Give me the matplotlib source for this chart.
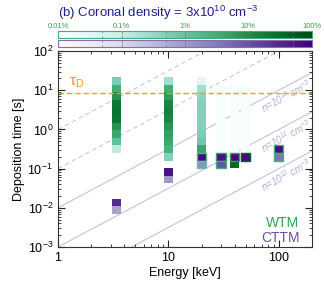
import numpy as np
import matplotlib.pyplot as plt
from matplotlib.colors import LogNorm
from matplotlib.cm import ScalarMappable
from matplotlib.ticker import FuncFormatter, LogLocator, NullFormatter

plt.rcParams['font.family'] = ['Liberation Sans', 'DejaVu Sans']
plt.rcParams['mathtext.fontset'] = 'custom'
plt.rcParams['mathtext.rm'] = 'Liberation Sans'
plt.rcParams['mathtext.it'] = 'Liberation Sans:italic'
plt.rcParams['mathtext.default'] = 'regular'

# Data
energy = [3.4, 10, 20, 30, 40, 50, 100]          # keV
# time bins: log10 of the upper edge of bin 0 and bin width (dex)
t_top_log = 1.34
t_step = 0.194
# WTM (green) distribution: first bin index and percent per bin
wtm_first = [0, 0, 0, 1, 1, 1, 9]
wtm_pct = [
    [0.6, 3, 8, 20, 25, 20, 8, 4, 1.2, 0.12],
    [0.25, 3, 6, 12, 15, 12, 7, 5, 4, 2.5, 0.5],
    [0.03, 0.25, 0.4, 0.5, 0.5, 0.5, 0.5, 0.6, 0.8, 4, 2, 1],
    [0.01, 0.01, 0.01, 0.01, 0.01, 0.01, 0.01, 0.01, 0.01, 5, 3],
    [0.01, 0.01, 0.01, 0.01, 0.01, 0.01, 0.01, 0.01, 0.01, 5, 35],
    [0.01, 0.01, 0.01, 0.01, 0.01, 0.01, 0.01, 0.01, 0.01, 40],
    [3, 3],
]
# CTTM (purple) distribution
cttm_first = [16, 12, 10, 10, 10, 10, 9]
cttm_pct = [[30, 0.7], [60, 1], [70, 1.5], [60, 10], [80], [70], [70, 4]]

tau_d = 8.7                      # s
solid_density = [1e10, 1e11, 1e12]
dashed_density = [1e8, 1e9]
t_coef = 1e8                     # t = t_coef * E^1.5 / n

fig = plt.figure(figsize=(3.24, 2.92), dpi=100)
ax = fig.add_axes([0.179, 0.154, 0.784, 0.671])

norm = LogNorm(1e-2, 1e2)
gcmap = plt.get_cmap('BuGn')
pcmap = plt.get_cmap('Purples')

# density lines
E_line = np.logspace(0, np.log10(200), 50)
for n in solid_density:
    ax.plot(E_line, t_coef * E_line**1.5 / n, color='#c4c0e4', lw=0.8, zorder=1)
for n in dashed_density:
    ax.plot(E_line, t_coef * E_line**1.5 / n, color='#c8c8d6', lw=0.8,
            dashes=(4, 3), zorder=1)
for n, ex in zip(solid_density, [10, 11, 12]):
    ax.text(118, 0.55 * t_coef * 118**1.5 / n, rf'n=10$^{{{ex}}}$ cm$^{{-3}}$',
            color='#b0acd4', fontsize=7, rotation=28, ha='center', va='center',
            style='italic', zorder=2)

# cells
hw = 0.0413
for i, E in enumerate(energy):
    x0 = E * 10**-hw
    w = E * (10**hw - 10**-hw)
    wcol = {}
    for j, p in enumerate(wtm_pct[i]):
        k = wtm_first[i] + j
        top = 10**(t_top_log - t_step * k)
        bot = 10**(t_top_log - t_step * (k + 1))
        c = gcmap(norm(p))
        wcol[k] = c
        ax.bar(x0, top - bot, width=w, bottom=bot, align='edge', color=c,
               lw=0, zorder=3)
    for j, p in enumerate(cttm_pct[i]):
        k = cttm_first[i] + j
        top = 10**(t_top_log - t_step * k)
        bot = 10**(t_top_log - t_step * (k + 1))
        ec = wcol.get(k, 'none')
        ax.bar(x0, top - bot, width=w, bottom=bot, align='edge',
               color=pcmap(norm(p)), edgecolor=ec, lw=1.0, zorder=4)

ax.axhline(tau_d, color='#ff9a1a', lw=1, dashes=(4, 2), zorder=5)
ax.text(1.27, 13.5, r'$\tau_{D}$', color='#ff9a1a', fontsize=11, zorder=6)

ax.text(0.95, 0.1, 'WTM', color='#31a354', fontsize=10, ha='right',
        va='baseline', transform=ax.transAxes)
ax.text(0.95, 0.025, 'CTTM', color='#6a51a3', fontsize=10, ha='right',
        va='baseline', transform=ax.transAxes)

ax.set_xscale('log')
ax.set_yscale('log')
ax.set_xlim(1, 200)
ax.set_ylim(1e-3, 1e2)
ax.xaxis.set_major_formatter(FuncFormatter(lambda v, p: f'{v:g}'))
ax.xaxis.set_minor_formatter(NullFormatter())
ax.yaxis.set_minor_locator(LogLocator(subs=np.arange(2, 10)))
ax.tick_params(which='both', direction='in', top=True, right=True,
               labelsize=9, color='#222222')
ax.tick_params(which='major', length=5, width=0.8)
ax.tick_params(which='minor', length=2.5, width=0.6)
for s in ax.spines.values():
    s.set_color('#333333')
ax.set_xlabel('Energy [keV]', fontsize=9, labelpad=2)
ax.set_ylabel('Deposition time [s]', fontsize=9, labelpad=2)

# colour bars
cb_ticks = [1e-2, 1e-1, 1, 10, 100]
cb_labels = ['0.01%', '0.1%', '1%', '10%', '100%']
cax_g = fig.add_axes([0.179, 0.871, 0.784, 0.023])
cax_p = fig.add_axes([0.179, 0.840, 0.784, 0.023])
for cax, cm, oc in [(cax_g, gcmap, '#41ae76'), (cax_p, pcmap, '#8c6bb1')]:
    cb = fig.colorbar(ScalarMappable(norm=norm, cmap=cm), cax=cax,
                      orientation='horizontal')
    cb.outline.set_edgecolor(oc)
    cb.outline.set_linewidth(0.8)
    cb.set_ticks(cb_ticks)
    cax.xaxis.set_minor_locator(LogLocator(subs=[5]))
    cax.xaxis.set_minor_formatter(NullFormatter())
    cax.xaxis.set_ticks_position('both')
    cax.tick_params(which='both', direction='in', color='#777777', width=0.5)
    cax.tick_params(which='major', length=2.5)
    cax.tick_params(which='minor', length=1.2)
cax_g.xaxis.set_ticklabels(cb_labels)
cax_g.tick_params(labeltop=True, labelbottom=False, labelsize=5.5,
                  labelcolor='#31a354', pad=1)
cax_p.tick_params(labeltop=False, labelbottom=False)

fig.text(0.18, 0.955, r'(b) Coronal density = 3x10$^{10}$ cm$^{-3}$',
         color='#1f1f8f', fontsize=9.5, va='center')

fig.savefig('out.png', dpi=100)
